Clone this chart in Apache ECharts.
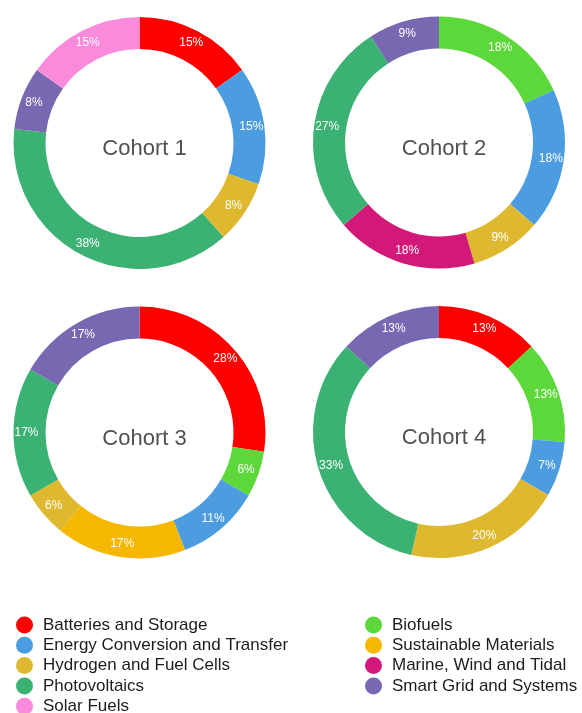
<!DOCTYPE html>
<html>
<head>
<meta charset="utf-8">
<script src="https://cdn.jsdelivr.net/npm/echarts@6/dist/echarts.min.js"></script>
<style>
  html, body { margin: 0; padding: 0; background: #fff; }
  #chart { width: 582px; height: 713px; }
</style>
</head>
<body>
<div id="chart"></div>
<script>
// categories (legend order) and their colours
const leftLegend = ['Batteries and Storage', 'Energy Conversion and Transfer', 'Hydrogen and Fuel Cells', 'Photovoltaics', 'Solar Fuels']
const rightLegend = ['Biofuels', 'Sustainable Materials', 'Marine, Wind and Tidal', 'Smart Grid and Systems']
const colors = {
  'Batteries and Storage': '#fd0000',
  'Energy Conversion and Transfer': '#4c9de0',
  'Hydrogen and Fuel Cells': '#deb92f',
  'Photovoltaics': '#3bb273',
  'Solar Fuels': '#fa8adb',
  'Biofuels': '#5dd83a',
  'Sustainable Materials': '#f6b700',
  'Marine, Wind and Tidal': '#d2197a',
  'Smart Grid and Systems': '#7867b1',
}

// cohorts, slices clockwise from 12 o'clock (percent shown in the ring)
const cohortTitles = ['Cohort 1', 'Cohort 2', 'Cohort 3', 'Cohort 4']
const cohort1Names = ['Batteries and Storage', 'Energy Conversion and Transfer', 'Hydrogen and Fuel Cells', 'Photovoltaics', 'Smart Grid and Systems', 'Solar Fuels']
const cohort1Values = [15, 15, 8, 38, 8, 15]
const cohort2Names = ['Biofuels', 'Energy Conversion and Transfer', 'Hydrogen and Fuel Cells', 'Marine, Wind and Tidal', 'Photovoltaics', 'Smart Grid and Systems']
const cohort2Values = [18, 18, 9, 18, 27, 9]
const cohort3Names = ['Batteries and Storage', 'Biofuels', 'Energy Conversion and Transfer', 'Sustainable Materials', 'Hydrogen and Fuel Cells', 'Photovoltaics', 'Smart Grid and Systems']
const cohort3Values = [28, 6, 11, 17, 6, 17, 17]
const cohort4Names = ['Batteries and Storage', 'Biofuels', 'Energy Conversion and Transfer', 'Hydrogen and Fuel Cells', 'Photovoltaics', 'Smart Grid and Systems']
const cohort4Values = [13, 13, 7, 20, 33, 13]

const cohorts = [
  { names: cohort1Names, values: cohort1Values, center: [139.5, 143] },
  { names: cohort2Names, values: cohort2Values, center: [439, 142.5] },
  { names: cohort3Names, values: cohort3Values, center: [139.5, 432.5] },
  { names: cohort4Names, values: cohort4Values, center: [439, 432] },
]

const font = '"Liberation Sans", Arial, Helvetica, sans-serif'
const chart = echarts.init(document.getElementById('chart'))

const legendBase = {
  orient: 'vertical',
  top: 611.5,
  height: 110,
  icon: 'circle',
  itemWidth: 17,
  itemHeight: 17,
  itemGap: 3.3,
  textStyle: {
    fontFamily: font,
    fontSize: 17,
    lineHeight: 17,
    color: '#1c1c1c',
    padding: [0, 0, 0, 5],
  },
}

const option = {
  animation: false,
  title: cohorts.map((c, i) => ({
    text: cohortTitles[i],
    left: c.center[0],
    top: c.center[1] + 1,
    textAlign: 'center',
    textVerticalAlign: 'middle',
    textStyle: {
      fontFamily: font,
      fontSize: 22,
      fontWeight: 'normal',
      color: '#505050',
    },
  })),
  legend: [
    { ...legendBase, left: 11, data: leftLegend },
    { ...legendBase, left: 360, data: rightLegend },
  ],
  series: cohorts.map((c, i) => ({
    name: cohortTitles[i],
    type: 'pie',
    center: c.center,
    radius: [94, 126],
    startAngle: 90,
    clockwise: true,
    avoidLabelOverlap: false,
    emphasis: { scale: false },
    label: {
      show: true,
      position: 'inside',
      formatter: '{c}%',
      color: '#fff',
      fontFamily: font,
      fontSize: 12,
    },
    labelLine: { show: false },
    data: c.names.map((n, j) => ({
      name: n,
      value: c.values[j],
      itemStyle: { color: colors[n] },
    })),
  })),
}

chart.setOption(option)
</script>
</body>
</html>
